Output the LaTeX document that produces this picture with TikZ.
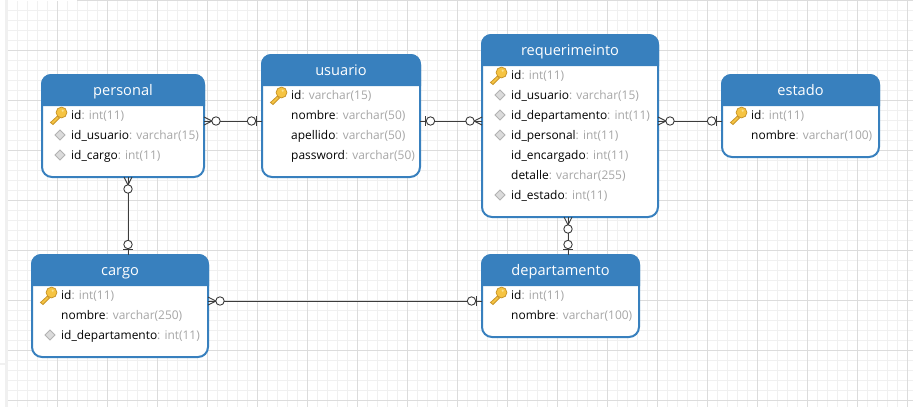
\documentclass[tikz,border=0pt]{standalone}
\usepackage{fontspec}
\setmainfont{Open Sans}
\usetikzlibrary{calc}
\definecolor{erdblue}{HTML}{3880BE}
\definecolor{typegrey}{HTML}{A6A6A6}
\definecolor{gridminor}{HTML}{F0F0F0}
\definecolor{gridmajor}{HTML}{DCDCDC}
\definecolor{linkdark}{HTML}{3C3C3C}
\definecolor{keyfill}{HTML}{F6C443}
\definecolor{keyline}{HTML}{C9962A}
\definecolor{keyshine}{HTML}{FBE38E}
\tikzset{
  x=1pt,y=-1pt,
  tablebox/.style={draw=erdblue,line width=2pt,fill=white,rounded corners=10pt,inner sep=0pt,outer sep=0pt},
  tabletitle/.style={text=white,font=\fontsize{14.6}{16}\selectfont,inner sep=0pt,anchor=base},
  fieldrow/.style={anchor=base west,inner sep=0pt,font=\fontsize{11.95}{14}\selectfont,text=black},
  link/.style={draw=linkdark,line width=1pt},
  linkpart/.style={draw=linkdark,line width=.9pt},
  crowopt/.pic={
    \draw[linkpart] (0,-4) -- (8,0) -- (0,4);
    \fill[white] (12,0) circle[radius=4];
    \draw[linkpart] (12,0) circle[radius=4.2];
  },
  oneopt/.pic={
    \draw[linkpart] (5.5,-5) -- (5.5,5);
    \fill[white] (10.5,0) circle[radius=4];
    \draw[linkpart] (10.5,0) circle[radius=4.2];
  },
  keyicon/.pic={
    \draw[draw=keyline,fill=keyfill,line width=.8pt]
      (-4,3.5) -- (-11,10) -- (-8.5,12) -- (-2,5.5) -- cycle;
    \draw[draw=keyline,fill=keyfill,line width=.8pt]
      (0,0) circle[radius=5.4];
    \fill[keyshine] (1.2,-1.8) circle[radius=1.2];
  },
  fkicon/.pic={
    \draw[draw=black!30,fill=black!14,line width=.9pt]
      (-5,0) -- (0,-5) -- (5,0) -- (0,5) -- cycle;
  },
}
% name, x0, y0, x1, y1, title
\newcommand{\erdtable}[6]{%
  \node[tablebox,minimum width={#4-#2-2},minimum height={#5-#3-2}] (#1) at ({(#2+#4)/2},{(#3+#5)/2}) {};
  \fill[erdblue] ({#2},{#3+32}) [rounded corners=10pt] -- ({#2},{#3}) -- ({#4},{#3}) [sharp corners] -- ({#4},{#3+32}) -- cycle;
  \node[tabletitle] (#1title) at ({(#2+#4)/2},{#3+21}) {#6};
}
% node name, x0, row y (centre), field, type
\newcommand{\erdrow}[5]{%
  \node[fieldrow] (#1) at ({#2+30},{#3+4}) {#4\textcolor{typegrey}{: #5}};
}
\newcommand{\erdkey}[2]{\pic at ({#1+20.5},{#2-2.5}) {keyicon};}
\newcommand{\erdfk}[2]{\pic at ({#1+19},{#2}) {fkicon};}
\begin{document}
\begin{tikzpicture}
\useasboundingbox (0,0) rectangle (913,407);
\fill[white] (0,0) rectangle (913,407);
% grid
\foreach \i in {0,...,90}{\draw[gridminor,line width=1pt] ({7.5+10*\i},1) -- ({7.5+10*\i},407);}
\foreach \i in {1,...,40}{\draw[gridminor,line width=1pt] (8,{10*\i+.5}) -- (913,{10*\i+.5});}
\foreach \i in {0,...,18}{\draw[gridmajor,line width=1pt] ({7.5+50*\i},1) -- ({7.5+50*\i},407);}
\foreach \i in {1,...,8}{\draw[gridmajor,line width=1pt] (8,{50*\i+.5}) -- (913,{50*\i+.5});}
\fill[gridminor] (5,0) rectangle (8,407);
\fill[gridminor] (0,363) rectangle (5,365);
\fill[gridmajor] (77,0) rectangle (913,1);
% tables
\erdtable{personal}{41}{74}{205}{178}{personal}
\erdtable{usuario}{261}{54}{421}{178}{usuario}
\erdtable{requerimeinto}{481}{34}{659}{218}{requerimeinto}
\erdtable{estado}{721}{74}{880}{158}{estado}
\erdtable{cargo}{31}{254}{209}{358}{cargo}
\erdtable{departamento}{481}{254}{640}{338}{departamento}
% connectors
\draw[link] ([yshift=5pt]personal.east) -- ([yshift=-5pt]usuario.west);
\draw[link] ([yshift=-5pt]usuario.east) -- ([yshift=5pt]requerimeinto.west);
\draw[link] ([yshift=5pt]requerimeinto.east) -- ([yshift=-5pt]estado.west);
\draw[link] ([xshift=5pt]personal.south) -- ([xshift=8pt]cargo.north);
\draw[link] ([yshift=5pt]cargo.east) -- ([yshift=-5pt]departamento.west);
\draw[link] ([xshift=-2pt]requerimeinto.south) -- ([xshift=7.5pt]departamento.north);
\pic at ([yshift=5pt]personal.east) {crowopt};
\pic[rotate=180] at ([yshift=-5pt]usuario.west) {oneopt};
\pic at ([yshift=-5pt]usuario.east) {oneopt};
\pic[rotate=180] at ([yshift=5pt]requerimeinto.west) {crowopt};
\pic at ([yshift=5pt]requerimeinto.east) {crowopt};
\pic[rotate=180] at ([yshift=-5pt]estado.west) {oneopt};
\pic[rotate=-90] at ([xshift=5pt]personal.south) {crowopt};
\pic[rotate=90] at ([xshift=8pt]cargo.north) {oneopt};
\pic at ([yshift=5pt]cargo.east) {crowopt};
\pic[rotate=180] at ([yshift=-5pt]departamento.west) {oneopt};
\pic[rotate=-90] at ([xshift=-2pt]requerimeinto.south) {crowopt};
\pic[rotate=90] at ([xshift=7.5pt]departamento.north) {oneopt};
% personal
\erdkey{41}{115}\erdfk{41}{135}\erdfk{41}{155}
\erdrow{pa}{41}{115}{id}{int(11)}
\erdrow{pb}{41}{135}{id\_usuario}{varchar(15)}
\erdrow{pc}{41}{155}{id\_cargo}{int(11)}
% usuario
\erdkey{261}{95}
\erdrow{ua}{261}{95}{id}{varchar(15)}
\erdrow{ub}{261}{115}{nombre}{varchar(50)}
\erdrow{uc}{261}{135}{apellido}{varchar(50)}
\erdrow{ud}{261}{155}{password}{varchar(50)}
% requerimeinto
\erdkey{481}{75}\erdfk{481}{95}\erdfk{481}{115}\erdfk{481}{135}\erdfk{481}{195}
\erdrow{ra}{481}{75}{id}{int(11)}
\erdrow{rb}{481}{95}{id\_usuario}{varchar(15)}
\erdrow{rc}{481}{115}{id\_departamento}{int(11)}
\erdrow{rd}{481}{135}{id\_personal}{int(11)}
\erdrow{re}{481}{155}{id\_encargado}{int(11)}
\erdrow{rf}{481}{175}{detalle}{varchar(255)}
\erdrow{rg}{481}{195}{id\_estado}{int(11)}
% estado
\erdkey{721}{115}
\erdrow{ea}{721}{115}{id}{int(11)}
\erdrow{eb}{721}{135}{nombre}{varchar(100)}
% cargo
\erdkey{31}{295}\erdfk{31}{335}
\erdrow{ca}{31}{295}{id}{int(11)}
\erdrow{cb}{31}{315}{nombre}{varchar(250)}
\erdrow{cc}{31}{335}{id\_departamento}{int(11)}
% departamento
\erdkey{481}{295}
\erdrow{da}{481}{295}{id}{int(11)}
\erdrow{db}{481}{315}{nombre}{varchar(100)}
\end{tikzpicture}
\end{document}
